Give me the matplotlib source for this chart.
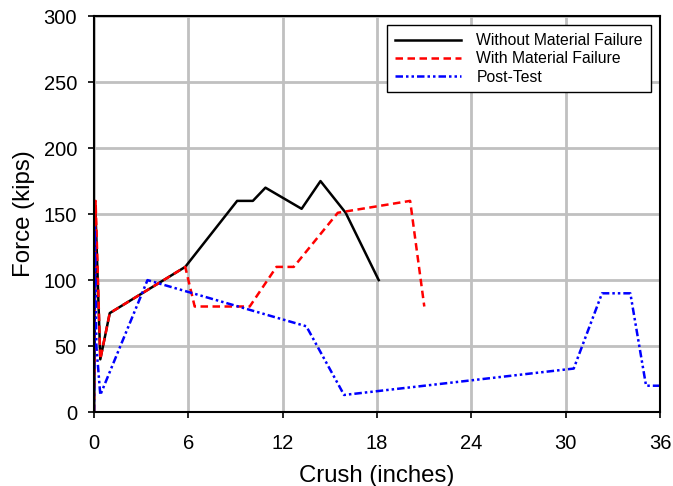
import matplotlib
matplotlib.use("Agg")
import matplotlib.pyplot as plt

plt.rcParams['font.family'] = ['Liberation Sans', 'DejaVu Sans']

# crush (inches) vs force (kips)
no_fail_x = [0, 0.1, 0.4, 1.0, 5.8, 9.1, 10.1, 10.9, 13.2, 14.4, 16.0, 18.1]
no_fail_y = [0, 150, 40, 75, 110, 160, 160, 170, 154, 175, 151, 100]

fail_x = [0, 0.1, 0.4, 1.0, 5.8, 6.4, 9.9, 11.6, 12.7, 15.5, 20.1, 21.0]
fail_y = [0, 160, 40, 75, 110, 80, 80, 110, 110, 151, 160, 80]

test_x = [0, 0.05, 0.15, 0.4, 3.4, 13.5, 15.9, 30.5, 32.3, 34.1, 35.1, 36.0]
test_y = [0, 140, 50, 13, 100, 65, 13, 33, 90, 90, 20, 20]

xticks = [0, 6, 12, 18, 24, 30, 36]
yticks = [0, 50, 100, 150, 200, 250, 300]

fig = plt.figure(figsize=(6.73, 4.86), dpi=100)
ax = fig.add_axes([0.1397, 0.152, 0.8413, 0.815])

ax.plot(no_fail_x, no_fail_y, color='black', lw=1.8, label='Without Material Failure')
ax.plot(fail_x, fail_y, color='red', lw=1.8, linestyle=(0, (3, 1.8)),
        label='With Material Failure')
ax.plot(test_x, test_y, color='blue', lw=1.8, linestyle=(0, (3, 1.2, 1, 1.2, 1, 1.2)),
        label='Post-Test')

ax.set_xlim(0, 36)
ax.set_ylim(0, 300)
ax.set_xticks(xticks)
ax.set_yticks(yticks)
ax.grid(True, color='#c0c0c0', lw=2)
ax.set_axisbelow(True)
for s in ax.spines.values():
    s.set_linewidth(1.5)
ax.tick_params(direction='out', length=4, width=1.2, labelsize=14.5)
ax.tick_params(axis='x', pad=11.5)
ax.tick_params(axis='y', pad=8.3)

ax.set_xlabel('Crush (inches)', fontsize=17.3, labelpad=9)
ax.set_ylabel('Force (kips)', fontsize=17.3, labelpad=6)

leg = ax.legend(loc='upper right', fontsize=11.3, handlelength=4.2, handletextpad=1.0,
                labelspacing=0.2, borderaxespad=0.6, fancybox=False, framealpha=1,
                borderpad=0.5)
leg.get_frame().set_edgecolor('black')
leg.get_frame().set_linewidth(1.0)

plt.savefig('out.png', dpi=100)
